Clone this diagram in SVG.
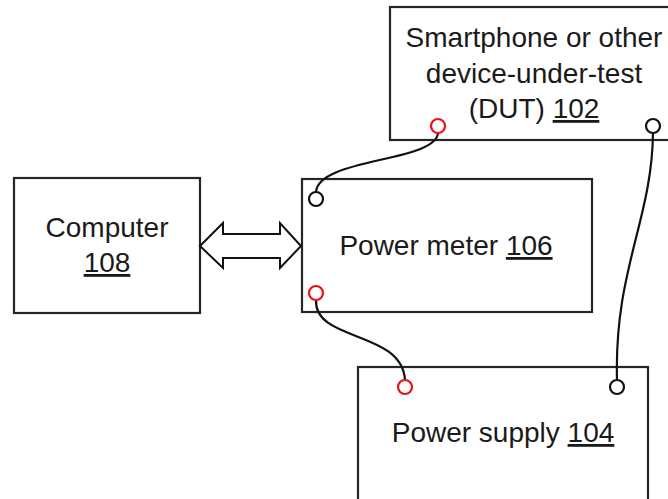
<svg xmlns="http://www.w3.org/2000/svg" width="668" height="499" viewBox="0 0 668 499">
<style>
.box{fill:#fff;stroke:#262626;stroke-width:2.2}
.t{font-family:"Liberation Sans",Arial,sans-serif;font-size:28px;fill:#1a1a1a;text-anchor:middle}
.u{text-decoration:underline}
.wire{fill:none;stroke:#111;stroke-width:2.2}
.pr{fill:#fff;stroke:#e8141a;stroke-width:2.2}
.pb{fill:#fff;stroke:#111;stroke-width:2.2}
</style>
<rect width="668" height="499" fill="#fff"/>
<g id="dut">
<rect class="box" x="390" y="7" width="282" height="133"/>
<text class="t" x="534" y="47">Smartphone or other</text>
<text class="t" x="534" y="83">device-under-test</text>
<text class="t" x="534" y="118">(DUT) <tspan class="u">102</tspan></text>
</g>
<g id="computer">
<rect class="box" x="14" y="178" width="186" height="135"/>
<text class="t" x="107" y="237">Computer</text>
<text class="t" x="107" y="272"><tspan class="u">108</tspan></text>
</g>
<g id="powermeter">
<rect class="box" x="302" y="179" width="290" height="133"/>
<text class="t" x="446" y="255">Power meter <tspan class="u">106</tspan></text>
</g>
<g id="powersupply">
<rect class="box" x="358" y="367" width="290" height="140"/>
<text class="t" x="503" y="442">Power supply <tspan class="u">104</tspan></text>
</g>
<g id="connectors">
<polygon points="200,246 223,223 223,234 280,234 280,223 301,246 280,268 280,258 223,258 223,268" fill="#fff" stroke="#111" stroke-width="2" stroke-linejoin="miter"/>
<path class="wire" d="M438,133 C436,162 318,158 316,192"/>
<path class="wire" d="M653,133 C652,220 614,270 617,380"/>
<path class="wire" d="M316,300 C314,342 402,330 405,380"/>
<circle class="pr" cx="438" cy="126" r="7"/>
<circle class="pb" cx="653" cy="126" r="7"/>
<circle class="pb" cx="316" cy="199" r="7"/>
<circle class="pr" cx="316" cy="293" r="7"/>
<circle class="pr" cx="405" cy="387" r="7"/>
<circle class="pb" cx="617" cy="387" r="7"/>
</g>
</svg>
